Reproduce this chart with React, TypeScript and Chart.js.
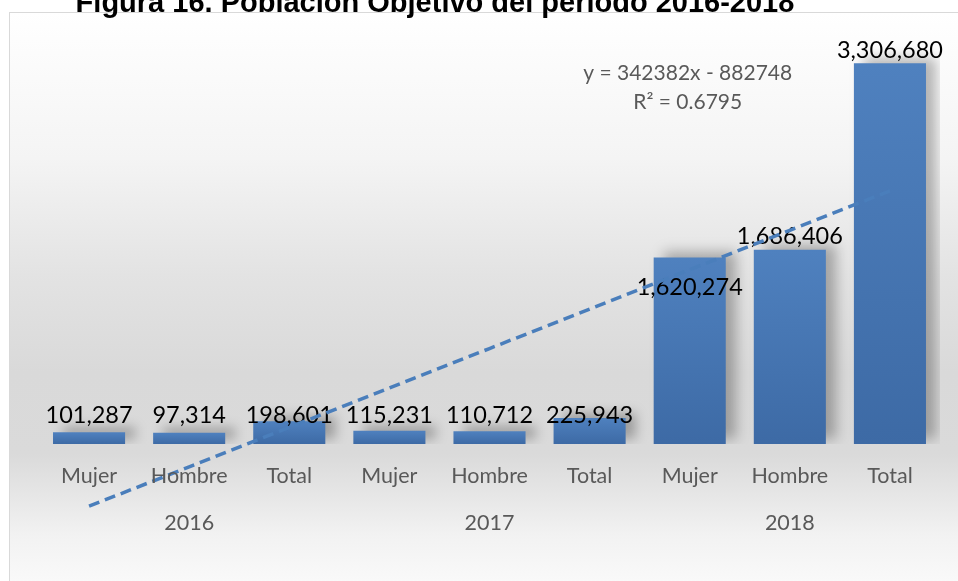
import React, { useEffect, useRef } from "react";
import { Chart, registerables } from "chart.js";

Chart.register(...registerables);

const title = "Figura 16. Población Objetivo del periodo 2016-2018";
const categories = ["Mujer", "Hombre", "Total", "Mujer", "Hombre", "Total", "Mujer", "Hombre", "Total"];
const years = ["2016", "2017", "2018"];
const values = [101287, 97314, 198601, 115231, 110712, 225943, 1620274, 1686406, 3306680];
const trendSlope = 342382;
const trendIntercept = -882748;
const trendLabel = ["y = 342382x - 882748", "R² = 0.6795"];
const yMax = 3500000;

const FONT = "Lato, 'Open Sans', sans-serif";

const fmt = (v: number) => v.toLocaleString("en-US");

const overlayPlugin = {
  id: "overlay",
  beforeDatasetDraw(chart: any, args: any) {
    if (args.meta.type === "bar") {
      const ctx = chart.ctx;
      ctx.save();
      ctx.shadowColor = "rgba(0,0,0,0.28)";
      ctx.shadowBlur = 12;
      ctx.shadowOffsetX = 10;
      ctx.shadowOffsetY = -5;
    }
  },
  afterDatasetDraw(chart: any, args: any) {
    if (args.meta.type !== "bar") return;
    const ctx = chart.ctx;
    ctx.restore();
    const y = chart.scales.y;
    const zeroY = y.getPixelForValue(0);
    ctx.save();
    ctx.font = `23.5px ${FONT}`;
    ctx.fillStyle = "#000000";
    ctx.textAlign = "center";
    ctx.textBaseline = "middle";
    args.meta.data.forEach((bar: any, i: number) => {
      const top = bar.y;
      let cy = zeroY - top < 60 ? zeroY - 29 : top - 13;
      if (i === 6) cy = top + 30;
      ctx.fillText(fmt(values[i]), bar.x, cy);
    });
    ctx.restore();
  },
  afterDraw(chart: any) {
    const ctx = chart.ctx;
    const x = chart.scales.x;
    const y = chart.scales.y;
    const zeroY = y.getPixelForValue(0);
    const area = chart.chartArea;
    ctx.save();
    ctx.textAlign = "center";
    ctx.textBaseline = "middle";
    ctx.fillStyle = "#595959";
    ctx.font = `21.5px ${FONT}`;
    categories.forEach((c, i) => {
      ctx.fillText(c, x.getPixelForValue(i), zeroY + 32);
    });
    years.forEach((yr, j) => {
      ctx.fillText(yr, x.getPixelForValue(j * 3 + 1), zeroY + 79);
    });
    ctx.font = `21px ${FONT}`;
    const tx = area.left + area.width * 0.72;
    ctx.fillText(trendLabel[0], tx, area.top + 32);
    ctx.fillText(trendLabel[1], tx, area.top + 61);
    ctx.restore();
  },
};

export default function App() {
  const ref = useRef<HTMLCanvasElement | null>(null);
  useEffect(() => {
    if (!ref.current) return;
    const trend = categories.map((_, i) => trendSlope * (i + 1) + trendIntercept);
    const chart = new Chart(ref.current, {
      type: "bar",
      data: {
        labels: categories,
        datasets: [
          {
            type: "line",
            data: trend,
            borderColor: "#4a7ebb",
            borderWidth: 3.5,
            borderDash: [11, 6],
            pointRadius: 0,
            fill: false,
            clip: false,
            order: 0,
          } as any,
          {
            type: "bar",
            data: values,
            barPercentage: 0.72,
            categoryPercentage: 1,
            order: 1,
            backgroundColor: (c: any) => {
              const chart = c.chart;
              const ys = chart.scales?.y;
              if (!ys || c.type !== "data") return "#4a7ebb";
              const top = ys.getPixelForValue(c.raw);
              const base = ys.getPixelForValue(0);
              if (!isFinite(top) || !isFinite(base) || base - top < 1) return "#4a7ebb";
              const g = chart.ctx.createLinearGradient(0, top, 0, base);
              g.addColorStop(0, "#4f81bf");
              g.addColorStop(1, "#3d6aa5");
              return g;
            },
          } as any,
        ],
      },
      options: {
        animation: false,
        responsive: false,
        maintainAspectRatio: false,
        layout: { padding: { left: 29, right: 18, top: 28, bottom: 136 } },
        plugins: { legend: { display: false }, tooltip: { enabled: false } },
        scales: {
          x: { display: false, grid: { display: false } },
          y: { display: false, min: 0, max: yMax, grid: { display: false } },
        },
      },
      plugins: [overlayPlugin],
    });
    return () => chart.destroy();
  }, []);

  return (
    <div style={{ position: "absolute", left: 0, top: 0, width: 958, height: 581, overflow: "hidden", background: "#ffffff" }}>
      <div
        style={{
          position: "absolute",
          left: 9,
          top: 12,
          width: 960,
          height: 580,
          border: "1px solid #d9d9d9",
          background:
            "linear-gradient(to bottom, #ffffff 0%, #f4f4f4 25%, #e3e3e3 45%, #d9d9d9 62%, #dadada 76%, #f2f2f2 90%, #fbfbfb 100%)",
        }}
      >
        <canvas ref={ref} width={948} height={567} style={{ display: "block", width: 948, height: 567 }} />
      </div>
      <div
        style={{
          position: "absolute",
          left: 0,
          top: -12,
          width: 870,
          textAlign: "center",
          fontFamily: "'Liberation Sans', Arial, sans-serif",
          fontWeight: "bold",
          fontSize: 29,
          lineHeight: "29px",
          color: "#000",
          whiteSpace: "nowrap",
        }}
      >
        {title}
      </div>
    </div>
  );
}
